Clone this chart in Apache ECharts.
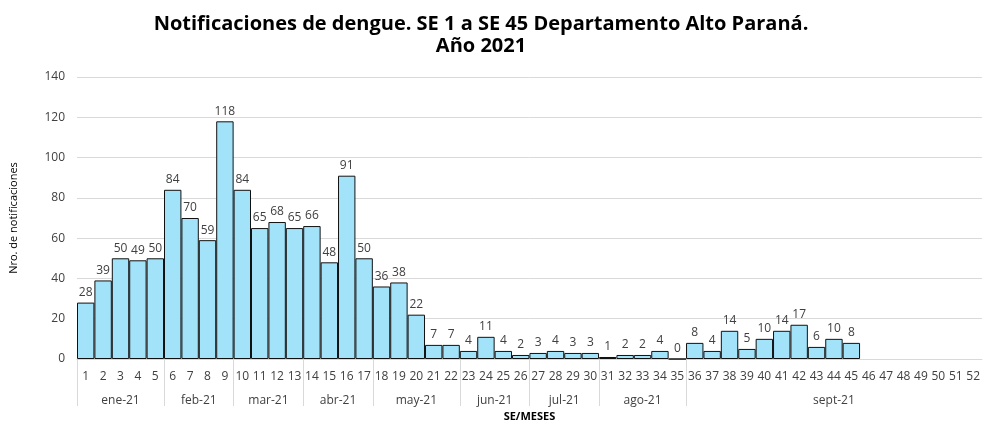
<!DOCTYPE html>
<html>
<head>
<meta charset="utf-8">
<script src="https://cdn.jsdelivr.net/npm/echarts@6/dist/echarts.min.js"></script>
<style>html,body{margin:0;padding:0;background:#fff}#c{width:983px;height:427px}</style>
</head>
<body>
<div id="c"></div>
<script>
const weeks = Array.from({length: 52}, (_, i) => String(i + 1));
const values = [28, 39, 50, 49, 50, 84, 70, 59, 118, 84, 65, 68, 65, 66, 48, 91, 50, 36, 38, 22,
  7, 7, 4, 11, 4, 2, 3, 4, 3, 3, 1, 2, 2, 4, 0, 8, 4, 14, 5, 10, 14, 17, 6, 10, 8,
  null, null, null, null, null, null, null];
const months = ['ene-21', 'feb-21', 'mar-21', 'abr-21', 'may-21', 'jun-21', 'jul-21', 'ago-21', 'sept-21'];
const monthFirstWeek = [1, 6, 10, 14, 18, 23, 27, 31, 36];
const lastWeek = 52;
const yTicks = [0, 20, 40, 60, 80, 100, 120, 140];

const FONT = '"Open Sans", "Noto Sans", sans-serif';
const bounds = monthFirstWeek.map(w => w - 1);
const centers = monthFirstWeek.map((w, i) => {
  const end = i + 1 < monthFirstWeek.length ? monthFirstWeek[i + 1] - 1 : lastWeek;
  return (w - 1 + end) / 2;
});
const centerName = {};
centers.forEach((c, i) => centerName[c] = months[i]);

const chart = echarts.init(document.getElementById('c'));
chart.setOption({
  animation: false,
  title: {
    text: 'Notificaciones de dengue. SE 1 a SE 45 Departamento Alto Paraná.\nAño 2021',
    left: 476, textAlign: 'center', top: 8,
    textStyle: {fontFamily: FONT, fontSize: 20, fontWeight: 'bold', color: '#000', lineHeight: 22}
  },
  grid: {left: 76, right: 0, top: 77, bottom: 65, containLabel: false},
  xAxis: [{
    type: 'category', data: weeks, gridIndex: 0, position: 'bottom',
    axisLine: {lineStyle: {color: '#d9d9d9', width: 1}},
    axisTick: {show: false},
    axisLabel: {interval: 0, margin: 12, fontFamily: FONT, fontSize: 12, color: '#404040'},
    name: 'SE/MESES', nameLocation: 'middle', nameGap: 52,
    nameTextStyle: {fontFamily: FONT, fontSize: 11, fontWeight: 'bold', color: '#000'}
  }, {
    type: 'value', min: 0, max: lastWeek, gridIndex: 0, position: 'bottom',
    axisLine: {show: false},
    splitLine: {show: false},
    axisTick: {show: true, customValues: bounds, length: 47, inside: false, lineStyle: {color: '#d9d9d9'}},
    axisLabel: {customValues: centers, margin: 36, fontFamily: FONT, fontSize: 12, color: '#404040',
      formatter: v => centerName[v] || ''}
  }],
  yAxis: {
    type: 'value', min: yTicks[0], max: yTicks[yTicks.length - 1], interval: 20,
    axisLine: {show: false}, axisTick: {show: false},
    splitLine: {lineStyle: {color: '#d9d9d9'}},
    axisLabel: {fontFamily: FONT, fontSize: 12, color: '#404040', margin: 12},
    name: 'Nro. de notificaciones', nameLocation: 'middle', nameGap: 58,
    nameTextStyle: {fontFamily: FONT, fontSize: 11, color: '#000'}
  },
  series: [{
    type: 'bar', data: values, xAxisIndex: 0, barCategoryGap: 0,
    itemStyle: {color: '#a3e3fa', borderColor: '#111', borderWidth: 1},
    label: {show: true, position: 'top', distance: 4, fontFamily: FONT, fontSize: 12, color: '#404040',
      formatter: p => p.value == null ? '' : String(p.value)}
  }]
});
</script>
</body>
</html>
